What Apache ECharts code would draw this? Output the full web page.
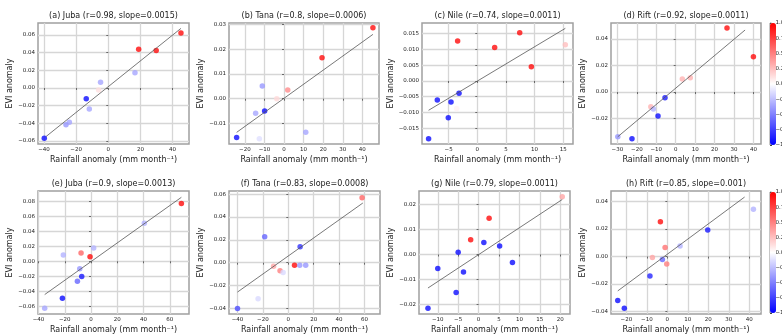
<!DOCTYPE html>
<html>
<head>
<meta charset="utf-8">
<script src="https://cdn.jsdelivr.net/npm/echarts@6/dist/echarts.min.js"></script>
<style>
html, body { margin: 0; padding: 0; background: #fff; }
#chart { width: 782px; height: 336px; }
</style>
</head>
<body>
<div id="chart"></div>
<script>
var titles = [
	'(a) Juba (r=0.98, slope=0.0015)', '(b) Tana (r=0.8, slope=0.0006)',
	'(c) Nile (r=0.74, slope=0.0011)', '(d) Rift (r=0.92, slope=0.0011)',
	'(e) Juba (r=0.9, slope=0.0013)', '(f) Tana (r=0.83, slope=0.0008)',
	'(g) Nile (r=0.79, slope=0.0011)', '(h) Rift (r=0.85, slope=0.001)'
];

// (a) Juba
var rainA = [45.2, 18.9, 29.8, 16.6, -4.8, -6.0, -13.7, -11.8, -24.2, -26.3, -39.8];
var eviA = [0.0623, 0.0438, 0.0426, 0.0174, 0.0064, -0.0023, -0.0121, -0.0238, -0.0389, -0.0415, -0.0570];
var colA = [0.95, 0.95, 0.95, -0.35, -0.35, 0.12, -0.95, -0.35, -0.35, -0.4, -0.95];
var fitA = [[-38.8, -0.0551], [45.2, 0.0675]];
// (b) Tana
var rainB = [45.4, 19.4, 1.9, -3.7, -11.1, -14.5, -9.9, -24.2, -12.6, 11.1];
var eviB = [0.0287, 0.0166, 0.0035, 0.0000, 0.0051, -0.0059, -0.0050, -0.0157, -0.0162, -0.0136];
var colB = [0.95, 0.95, 0.45, 0.15, -0.4, -0.35, -0.95, -0.95, -0.12, -0.35];
var fitB = [[-24.2, -0.0136], [45.4, 0.0260]];
// (c) Nile
var rainC = [-8.5, -6.98, -4.59, -5.06, -3.19, -3.6, -3.43, 3.03, 7.4, 9.43, 15.36];
var eviC = [-0.0183, -0.0060, -0.0067, -0.0117, -0.0039, -0.0087, 0.0127, 0.0106, 0.0153, 0.0045, 0.0115];
var colC = [-0.95, -0.95, -0.95, -0.95, -0.95, 0.05, 0.95, 0.95, 0.95, 0.95, 0.25];
var fitC = [[-8.5, -0.0093], [15.36, 0.0167]];
// (d) Rift
var rainD = [26.4, 40.0, 3.4, 7.5, -12.8, -11.5, -5.5, -9.1, -29.8, -22.5];
var eviD = [0.0483, 0.0267, 0.0098, 0.0108, -0.0111, -0.0128, -0.0043, -0.0181, -0.0337, -0.0352];
var colD = [0.95, 0.95, 0.3, 0.3, 0.3, -0.3, -0.9, -0.95, -0.4, -0.95];
var fitD = [[-29.8, -0.0337], [35.7, 0.0468]];
// (e) Juba
var rainE = [68.8, 40.6, 2.0, -0.76, -7.6, -21.1, -8.6, -7.1, -10.4, -21.8, -35.3];
var eviE = [0.0769, 0.0507, 0.0178, 0.0062, 0.0111, 0.0084, -0.0098, -0.0204, -0.0267, -0.0493, -0.0627];
var colE = [0.95, -0.3, -0.3, 0.95, 0.6, -0.3, -0.4, -0.9, -0.6, -0.95, -0.35];
var fitE = [[-35.3, -0.0444], [68.8, 0.0853]];
// (f) Tana
var rainF = [58.1, -18.6, 9.3, -11.6, -6.5, -4.1, 4.9, 9.0, 13.7, -23.8, -40.0];
var eviF = [0.0569, 0.0227, 0.0140, -0.0032, -0.0070, -0.0085, -0.0023, -0.0023, -0.0023, -0.0315, -0.0400];
var colF = [0.6, -0.6, -0.8, 0.35, 0.5, -0.15, 0.95, -0.4, -0.4, -0.15, -0.7];
var fitF = [[-40.0, -0.0257], [58.7, 0.0522]];
// (g) Nile
var rainG = [20.5, 2.58, -1.94, 1.29, 5.16, 8.3, -5.0, -10.0, -3.7, -5.5, -12.4];
var eviG = [0.0231, 0.0145, 0.0059, 0.0048, 0.0034, -0.0032, 0.0009, -0.0056, -0.0070, -0.0152, -0.0215];
var colG = [0.35, 0.95, 0.95, -0.95, -0.95, -0.95, -0.95, -0.95, -0.95, -0.95, -0.95];
var fitG = [[-12.4, -0.0134], [20.5, 0.0220]];
// (h) Rift
var rainH = [42.0, 19.7, -3.4, -1.1, 6.2, -7.3, -2.4, -0.3, -8.5, -24.2, -21.0];
var eviH = [0.0345, 0.0193, 0.0254, 0.0066, 0.0076, -0.0007, -0.0022, -0.0054, -0.0142, -0.0320, -0.0377];
var colH = [-0.3, -0.9, 0.95, 0.55, -0.3, 0.35, -0.6, 0.5, -0.85, -0.95, -0.95];
var fitH = [[-24.2, -0.0250], [37.7, 0.0433]];

// tick labels
var xTicksA = [-40, -20, 0, 20, 40];
var yTicksA = [-0.06, -0.04, -0.02, 0, 0.02, 0.04, 0.06];
var xTicksB = [-20, -10, 0, 10, 20, 30, 40];
var yTicksB = [-0.01, 0, 0.01, 0.02, 0.03];
var xTicksC = [-5, 0, 5, 10, 15];
var yTicksC = [-0.015, -0.01, -0.005, 0, 0.005, 0.01, 0.015];
var xTicksD = [-30, -20, -10, 0, 10, 20, 30, 40];
var yTicksD = [-0.02, 0, 0.02, 0.04];
var xTicksE = [-40, -20, 0, 20, 40, 60];
var yTicksE = [-0.06, -0.04, -0.02, 0, 0.02, 0.04, 0.06, 0.08];
var xTicksF = [-40, -20, 0, 20, 40, 60];
var yTicksF = [-0.04, -0.02, 0, 0.02, 0.04, 0.06];
var xTicksG = [-10, -5, 0, 5, 10, 15, 20];
var yTicksG = [-0.02, -0.01, 0, 0.01, 0.02];
var xTicksH = [-20, -10, 0, 10, 20, 30, 40];
var yTicksH = [-0.04, -0.02, 0, 0.02, 0.04];
var cbTicks = [-1, -0.75, -0.5, -0.25, 0, 0.25, 0.5, 0.75, 1];

var panels = [
	{ x: rainA, y: eviA, c: colA, fit: fitA, xt: xTicksA, yt: yTicksA, xl: [-43.7, 50.2], yl: [-0.0634, 0.0736], dec: 2 },
	{ x: rainB, y: eviB, c: colB, fit: fitB, xt: xTicksB, yt: yTicksB, xl: [-28.1, 48.5], yl: [-0.0183, 0.0306], dec: 2 },
	{ x: rainC, y: eviC, c: colC, fit: fitC, xt: xTicksC, yt: yTicksC, xl: [-9.65, 16.7], yl: [-0.0200, 0.0184], dec: 3 },
	{ x: rainD, y: eviD, c: colD, fit: fitD, xt: xTicksD, yt: yTicksD, xl: [-33.3, 43.9], yl: [-0.0392, 0.0521], dec: 2 },
	{ x: rainE, y: eviE, c: colE, fit: fitE, xt: xTicksE, yt: yTicksE, xl: [-40.4, 74.6], yl: [-0.0703, 0.0937], dec: 2 },
	{ x: rainF, y: eviF, c: colF, fit: fitF, xt: xTicksF, yt: yTicksF, xl: [-46.7, 72.2], yl: [-0.0449, 0.0627], dec: 2 },
	{ x: rainG, y: eviG, c: colG, fit: fitG, xt: xTicksG, yt: yTicksG, xl: [-14.6, 22.4], yl: [-0.0238, 0.0254], dec: 2 },
	{ x: rainH, y: eviH, c: colH, fit: fitH, xt: xTicksH, yt: yTicksH, xl: [-27.5, 45.7], yl: [-0.0418, 0.0477], dec: 2 }
];

// plot boxes: left, top, width, height
var boxes = [
	[38, 23, 151, 121], [229, 23, 150, 121], [422, 23, 151, 121], [611, 23, 150, 121],
	[38, 191, 151, 123], [229, 191, 151, 123], [419, 191, 151, 123], [611, 191, 150, 123]
];
var nameGaps = [23, 23, 26, 24, 23, 23, 23, 24];
var font = 'DejaVu Sans';

function fmt(dec) {
	return function(v) {
		var s = Math.abs(v).toFixed(dec);
		return (v < -1e-9 ? '\u2212' : '') + s;
	};
}

function gridLine() {
	return { show: true, interval: 0, lineStyle: { color: '#d6d6d6', width: 1.3, type: [100, 0] } };
}

var grid = [], xAxis = [], yAxis = [], series = [], graphic = [];

panels.forEach(function(p, i) {
	var b = boxes[i];
	grid.push({ left: b[0], top: b[1], width: b[2], height: b[3], show: true, borderColor: '#a0a0a0', borderWidth: 1.5 });
	xAxis.push({
		type: 'value', gridIndex: i, min: p.xl[0], max: p.xl[1],
		name: 'Rainfall anomaly (mm month\u207b\u00b9)', nameLocation: 'middle', nameGap: 12,
		nameTextStyle: { fontSize: 8, color: '#222', fontFamily: font },
		axisLine: { show: false },
		axisTick: { show: true, length: 2, customValues: p.xt, lineStyle: { color: '#666' } },
		axisLabel: { customValues: p.xt, fontSize: 5.5, margin: 3, color: '#222', fontFamily: font, formatter: fmt(0) },
		splitLine: gridLine()
	});
	yAxis.push({
		type: 'value', gridIndex: i, min: p.yl[0], max: p.yl[1],
		name: 'EVI anomaly', nameLocation: 'middle', nameGap: nameGaps[i],
		nameTextStyle: { fontSize: 8, color: '#222', fontFamily: font },
		axisLine: { show: false },
		axisTick: { show: true, length: 2, customValues: p.yt, lineStyle: { color: '#666' } },
		axisLabel: { customValues: p.yt, fontSize: 5.5, margin: 3, color: '#222', fontFamily: font, formatter: fmt(p.dec) },
		splitLine: gridLine()
	});
	var pts = p.x.map(function(v, k) { return [v, p.y[k], p.c[k]]; });
	series.push({
		type: 'scatter', xAxisIndex: i, yAxisIndex: i, symbolSize: 5.5, data: pts
	});
	series.push({
		type: 'line', xAxisIndex: i, yAxisIndex: i, showSymbol: false, symbol: 'none',
		lineStyle: { color: '#555', width: 0.8 }, data: p.fit, silent: true
	});
	graphic.push({
		type: 'text', x: b[0] + b[2] / 2, y: b[1] - 7,
		style: { text: titles[i], align: 'center', verticalAlign: 'middle', fontSize: 8, fontFamily: font, fill: '#222' }
	});
});

// colour bars
var bars = [[770, 23, 6, 122], [770, 192, 6, 121]];
var visualMap = [];
bars.forEach(function(b, r) {
	var gi = grid.length;
	grid.push({ left: b[0], top: b[1], width: b[2], height: b[3], show: true, borderColor: '#444', borderWidth: 0.6 });
	xAxis.push({ type: 'value', gridIndex: gi, show: false, min: 0, max: 1 });
	yAxis.push({
		type: 'value', gridIndex: gi, position: 'right', min: -1, max: 1,
		axisLine: { show: false },
		axisTick: { show: true, length: 2, customValues: cbTicks, lineStyle: { color: '#444' } },
		axisLabel: { customValues: cbTicks, fontSize: 5.5, margin: 4, color: '#222', fontFamily: font, formatter: fmt(2) },
		splitLine: { show: false }
	});
	visualMap.push({
		type: 'continuous', min: -1, max: 1, dimension: 2,
		seriesIndex: r === 0 ? [0, 2, 4, 6] : [8, 10, 12, 14],
		inRange: { color: ['#0000ff', '#ffffff', '#ff0000'] },
		left: b[0], top: b[1], itemWidth: b[2], itemHeight: b[3], padding: 0,
		calculable: false, hoverLink: false
	});
});

var myChart = echarts.init(document.getElementById('chart'));
myChart.setOption({
	animation: false,
	textStyle: { fontFamily: font },
	grid: grid,
	xAxis: xAxis,
	yAxis: yAxis,
	visualMap: visualMap,
	graphic: graphic,
	series: series
});
</script>
</body>
</html>
